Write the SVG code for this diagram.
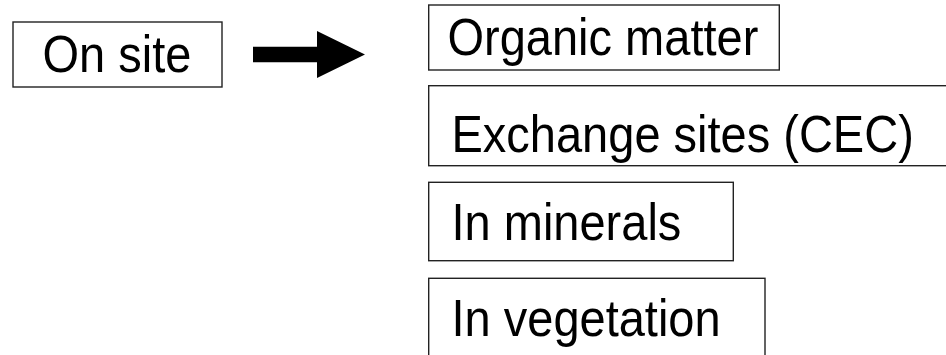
<svg xmlns="http://www.w3.org/2000/svg" width="946" height="355" viewBox="0 0 946 355">
<style>
.box{fill:#fff;stroke:#222;stroke-width:1.4}
.t{font-family:"Liberation Sans",Arial,sans-serif;font-size:47px;fill:#000}
</style>
<rect width="946" height="355" fill="#fff"/>
<g id="on-site">
<rect class="box" x="13" y="22" width="209" height="65"/>
<text class="t" transform="translate(42.5,72) scale(1,1.09)">On site</text>
</g>
<g id="connectors">
<polygon points="253,46.7 317,46.7 317,31 365,54.5 317,78 317,62.3 253,62.3" fill="#000"/>
</g>
<g id="organic-matter">
<rect class="box" x="428.7" y="5" width="350.6" height="65"/>
<text class="t" transform="translate(447.5,55) scale(1,1.09)">Organic matter</text>
</g>
<g id="exchange-sites">
<rect class="box" x="428.7" y="85.7" width="530" height="80"/>
<text class="t" transform="translate(451.5,151.5) scale(1,1.09)">Exchange sites (CEC)</text>
</g>
<g id="in-minerals">
<rect class="box" x="428.7" y="182.3" width="304.6" height="78.4"/>
<text class="t" transform="translate(451.5,240) scale(1,1.09)">In minerals</text>
</g>
<g id="in-vegetation">
<rect class="box" x="428.7" y="278.3" width="336.3" height="100"/>
<text class="t" transform="translate(451.5,335.5) scale(1,1.09)">In vegetation</text>
</g>
</svg>
